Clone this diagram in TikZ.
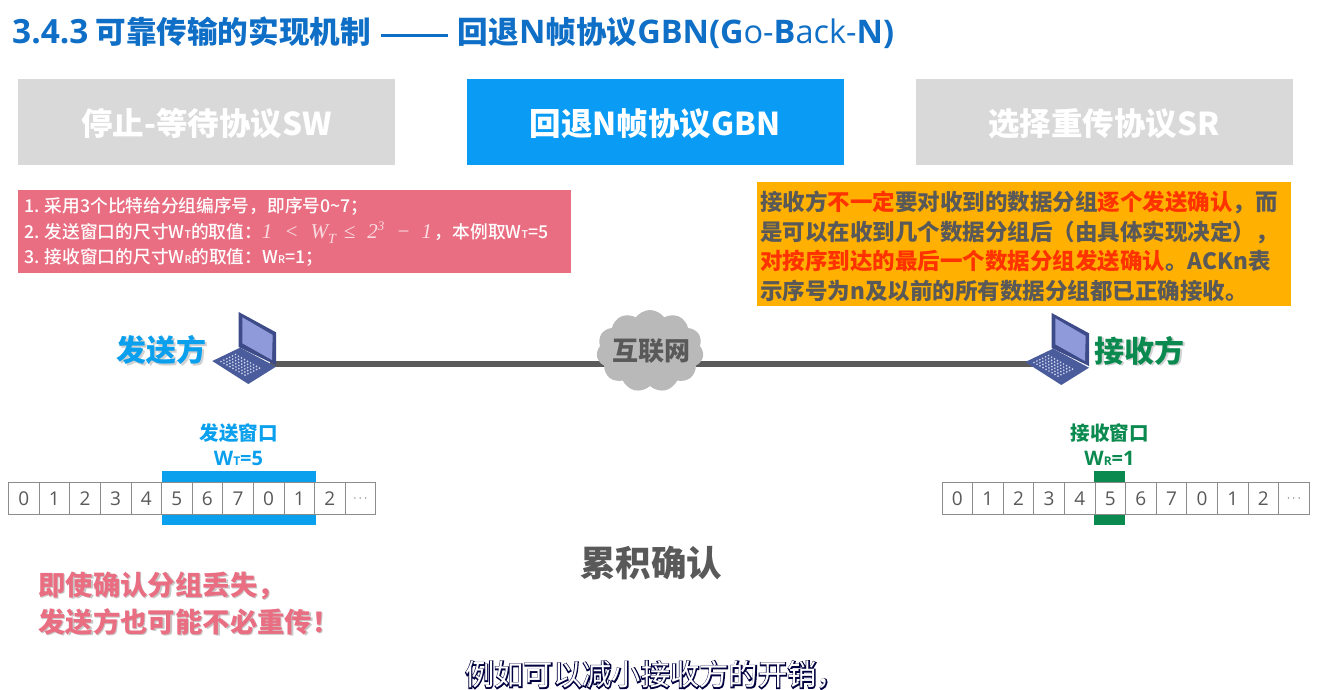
\documentclass[tikz,border=0pt]{standalone}
\usepackage{fontspec}
\usepackage{xcolor}
\setmainfont{Noto Sans CJK SC}
\newfontfamily\haloface[FakeBold=7]{Noto Sans CJK SC}
\newfontfamily\latinface{Open Sans}
\newfontfamily\formulaface{Liberation Serif}
\newfontfamily\mediumface{Noto Sans CJK SC Medium}
\usetikzlibrary{shapes.symbols}
\definecolor{titleblue}{HTML}{0F6FC6}
\definecolor{tabgray}{HTML}{D9D9D9}
\definecolor{tabblue}{HTML}{0A9CF5}
\definecolor{sendblue}{HTML}{0AA0EE}
\definecolor{recvgreen}{HTML}{0B8A50}
\definecolor{notepink}{HTML}{E96E82}
\definecolor{noteorange}{HTML}{FFB000}
\definecolor{hotred}{HTML}{FF3300}
\definecolor{inkgray}{HTML}{595959}
\definecolor{cablegray}{HTML}{5A5A5A}
\definecolor{cloudgray}{HTML}{B9B9B9}
\definecolor{pcframe}{HTML}{3D4B88}
\definecolor{pcscreen}{HTML}{8F9ADB}
\definecolor{pcbase}{HTML}{4A5C9C}
\definecolor{pckey}{HTML}{CBD2EE}
\newcommand{\fs}[2]{\fontsize{#1}{#2}\selectfont}
\newcommand{\subtxt}[1]{\scalebox{0.6}{#1}}
\newcommand{\la}[1]{{\latinface #1}}
\newcommand{\tla}[1]{{\latinface\fs{33.4}{36}#1}}
\newcommand{\tlb}[1]{{\latinface\fs{32.5}{36}#1}}
\tikzset{
  tabbox/.style={minimum width=377pt,minimum height=86pt,inner sep=0pt,text height=27pt,text depth=0pt,font=\fs{31.5}{38}\bfseries,text=white},
  cellbox/.style={draw=black!45,line width=0.8pt,minimum width=30.6pt,minimum height=32pt,inner sep=0pt,font=\latinface\fs{19}{24},text=inkgray},
  pics/laptop/.style={code={
    \fill[pcframe] (26.7,0) -- (64,20.3) -- (64,53) -- (26.7,35) -- cycle;
    \fill[pcscreen] (30.3,5.3) -- (60.7,23) -- (60,48) -- (30.3,31.3) -- cycle;
    \fill[pcbase] (0.3,49) -- (28,35.7) -- (64,54.7) -- (36.3,72) -- cycle;
    \foreach \a in {0,...,8}{
      \foreach \b in {0,...,5}{
        \fill[pckey] ({9+3*\a+2.9*\b},{49.5+1.7*\a-1.4*\b}) circle (0.95pt);
      }
    }
  }}
}
\begin{document}
\begin{tikzpicture}[x=1pt,y=-1pt]
  \useasboundingbox (0,0) rectangle (1323,689);
  \fill[white] (0,0) rectangle (1323,689);

  \node[anchor=west,inner sep=0pt,text=titleblue,font=\fs{30.6}{36}\bfseries] (title) at (12,33)
    {\tla{3.4.3} 可靠传输的实现机制\hspace{10pt}\rule[7pt]{67pt}{3.2pt}\hspace{10pt}回退\tlb{N}帧协议\tlb{GBN(G{\mdseries o-}B{\mdseries ack-}N)}};

  \node[tabbox,fill=tabgray] (tabsw) at (206.5,122) {停止-等待协议SW};
  \node[tabbox,fill=tabblue] (tabgbn) at (655,122) {回退N帧协议GBN};
  \node[tabbox,fill=tabgray] (tabsr) at (1104,122) {选择重传协议SR};

  \fill[notepink] (18,190) rectangle (571,273);
  \node[anchor=west,align=left,inner sep=0pt,text=white,font=\mediumface\fs{17.7}{25.5}] (rules) at (24,232)
    {1. 采用3个比特给分组编序号，即序号0\textasciitilde7；\\
     2. 发送窗口的尺寸W\subtxt{T}的取值：\textcolor{white!75!notepink}{\formulaface\itshape\fs{21}{25.5}1\hspace{12pt}<\hspace{12pt}W\raisebox{-5pt}{\fs{14}{14}T}\hspace{8pt}≤\hspace{12pt}2\raisebox{8pt}{\fs{13}{13}3}\hspace{12pt}−\hspace{11pt}1}\,，本例取W\subtxt{T}=5\\
     3. 接收窗口的尺寸W\subtxt{R}的取值：W\subtxt{R}=1；};

  \fill[noteorange] (757,182) rectangle (1291,306);
  \node[anchor=west,align=left,inner sep=0pt,text=inkgray,font=\fs{22.5}{29.6}\bfseries] (ackrule) at (760,246.5)
    {接收方\textcolor{hotred}{不一定}要对收到的数据分组\textcolor{hotred}{逐个发送确认}，而\\
     是可以在收到几个数据分组后（由具体实现决定），\\
     \textcolor{hotred}{对按序到达的最后一个数据分组发送确认}。ACKn表\\
     示序号为n及以前的所有数据分组都已正确接收。};

  \coordinate (senderport) at (270,364);
  \coordinate (receiverport) at (1036,364);
  \draw[cablegray,line width=6pt] (senderport) -- (receiverport);
  \node[cloud,cloud puffs=11,cloud puff arc=110,aspect=1.3,fill=cloudgray,minimum width=107pt,minimum height=82pt,inner sep=0pt] (internet) at (650,351) {};
  \node[inner sep=0pt,text=inkgray,font=\fs{26}{30}\bfseries] (internetlabel) at (651,351) {互联网};
  \pic (senderpc) at (212,312) {laptop};
  \pic (receiverpc) at (1025,313) {laptop};

  \node[text=black!18,font=\fs{30}{36}\bfseries,inner sep=0pt] (sendershade) at (163,352) {发送方};
  \node[text=sendblue,font=\fs{30}{36}\bfseries,inner sep=0pt] (sender) at (161.5,350.5) {发送方};
  \node[text=black!18,font=\fs{30}{36}\bfseries,inner sep=0pt] (receivershade) at (1141,352) {接收方};
  \node[text=recvgreen,font=\fs{30}{36}\bfseries,inner sep=0pt] (receiver) at (1139.5,350.5) {接收方};

  \fill[sendblue] (162,471) rectangle (316,525);
  \fill[recvgreen] (1094,471) rectangle (1125,525);
  \foreach \v [count=\i] in {0,1,2,3,4,5,6,7,0,1,2,\scalebox{0.7}{$\cdots$}}{
    \node[cellbox,fill=white] (sendcell\i) at ({8.5+30.6*(\i-0.5)},498.5) {\v};
    \node[cellbox,fill=white] (recvcell\i) at ({942+30.6*(\i-0.5)},498.5) {\v};
  }

  \node[text=sendblue,font=\fs{19.5}{24}\bfseries,inner sep=0pt] (sendwin) at (238.5,433) {发送窗口};
  \node[text=sendblue,font=\fs{20}{24}\bfseries,inner sep=0pt] (sendsize) at (238.5,458) {\la{W\subtxt{T}=5}};
  \node[text=recvgreen,font=\fs{19.5}{24}\bfseries,inner sep=0pt] (recvwin) at (1109.5,433) {接收窗口};
  \node[text=recvgreen,font=\fs{20}{24}\bfseries,inner sep=0pt] (recvsize) at (1109.5,458) {\la{W\subtxt{R}=1}};

  \node[text=inkgray,font=\fs{35.5}{40}\bfseries,inner sep=0pt] (cumack) at (651,563) {累积确认};

  \node[anchor=west,align=left,inner sep=0pt,text=black!22,font=\fs{27.4}{37}\bfseries] (lossshade) at (39.5,605) {即使确认分组丢失，\\发送方也可能不必重传！};
  \node[anchor=west,align=left,inner sep=0pt,text=notepink,font=\fs{27.4}{37}\bfseries] (lossnote) at (38,603.5) {即使确认分组丢失，\\发送方也可能不必重传！};

  \node[anchor=west,inner sep=0pt,text=black!75!blue,font=\haloface\fs{29.3}{32}] (captionhalo) at (465,675) {例如可以减小接收方的开销，};
  \node[anchor=west,inner sep=0pt,text=white,font=\fs{29.3}{32}] (caption) at (465,675) {例如可以减小接收方的开销，};
\end{tikzpicture}
\end{document}
